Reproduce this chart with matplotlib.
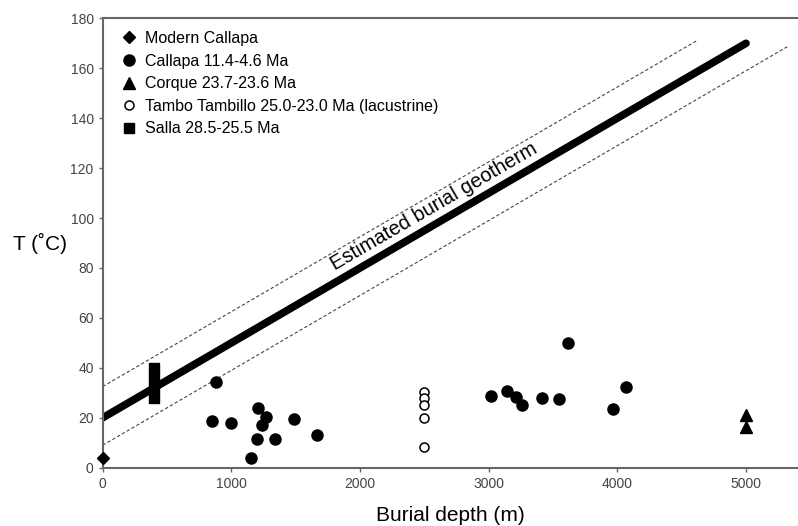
import numpy as np
import matplotlib.pyplot as plt

plt.rcParams['font.family'] = ['Liberation Sans', 'DejaVu Sans']

# data
modern_x = [0]
modern_T = [4]

callapa_x = [853, 879, 1000, 1156, 1200, 1208, 1239, 1273, 1337, 1485, 1667,
             3017, 3144, 3209, 3261, 3412, 3546, 3618, 3963, 4069]
callapa_T = [18.8, 34.2, 17.8, 3.9, 11.5, 23.8, 17.2, 20.4, 11.5, 19.5, 13.2,
             28.9, 30.7, 28.5, 25.3, 28.1, 27.4, 50.0, 23.4, 32.5]

corque_x = [5000, 5000]
corque_T = [21.1, 16.2]

tambo_x = [2500, 2500, 2500, 2500, 2500]
tambo_T = [30.5, 28.0, 25.2, 20.0, 8.3]

salla_x = [400, 400, 400, 400]
salla_T = [40, 36, 32, 28]

geo_x = [0, 5000]
geo_T = [20, 170]
upper_x = [0, 4620]
upper_T = [32.5, 171.1]
lower_x = [0, 5320]
lower_T = [9, 168.6]

fig = plt.figure(figsize=(7.98, 5.26), dpi=100)
ax = fig.add_axes([0.1287, 0.1108, 0.8713, 0.8544])

ax.plot(geo_x, geo_T, color='black', lw=5.5, solid_capstyle='round', zorder=2)
ax.plot(upper_x, upper_T, color='#444444', lw=0.8, ls=(0, (3, 2)), zorder=1)
ax.plot(lower_x, lower_T, color='#444444', lw=0.8, ls=(0, (3, 2)), zorder=1)

ax.plot(modern_x, modern_T, 'D', color='black', ms=6.5, ls='none',
        label='Modern Callapa', zorder=3, clip_on=False)
ax.plot(callapa_x, callapa_T, 'o', color='black', ms=8, ls='none',
        label='Callapa 11.4-4.6 Ma', zorder=3)
ax.plot(corque_x, corque_T, '^', color='black', ms=8, ls='none',
        label='Corque 23.7-23.6 Ma', zorder=3)
ax.plot(tambo_x, tambo_T, 'o', mfc='white', mec='black', mew=1.1, ms=6.5,
        ls='none', label='Tambo Tambillo 25.0-23.0 Ma (lacustrine)', zorder=3)
ax.plot(salla_x, salla_T, 's', color='black', ms=7.5, ls='none',
        label='Salla 28.5-25.5 Ma', zorder=3)

ax.set_xlim(0, 5404)
ax.set_ylim(0, 180)
ax.set_xticks(np.arange(0, 5001, 1000))
ax.set_yticks(np.arange(0, 181, 20))

for s in ['left', 'bottom', 'top']:
    ax.spines[s].set_color('#666666')
    ax.spines[s].set_linewidth(1.5)
ax.spines['right'].set_visible(False)
ax.tick_params(axis='both', colors='#666666', labelcolor='#444444',
               labelsize=10, length=3, width=1)

ax.set_xlabel('Burial depth (m)', fontsize=15, labelpad=11)
ax.set_ylabel('T (˚C)', fontsize=15, rotation=0, va='center', ha='center')
ax.yaxis.set_label_coords(-0.09, 0.5)

# label along the geotherm
p1 = ax.transData.transform((geo_x[0], geo_T[0]))
p2 = ax.transData.transform((geo_x[1], geo_T[1]))
ang = np.degrees(np.arctan2(p2[1] - p1[1], p2[0] - p1[0]))
ax.text(2575, 104.5, 'Estimated burial geotherm', rotation=ang,
        rotation_mode='anchor', ha='center', va='center', fontsize=14.5)

ax.legend(loc='upper left', bbox_to_anchor=(0.005, 1.0), frameon=False,
          fontsize=11.5, handletextpad=0.4, labelspacing=0.47,
          borderaxespad=0.4, handlelength=1.2, markerscale=1.0)

plt.savefig('out.png', dpi=100)
